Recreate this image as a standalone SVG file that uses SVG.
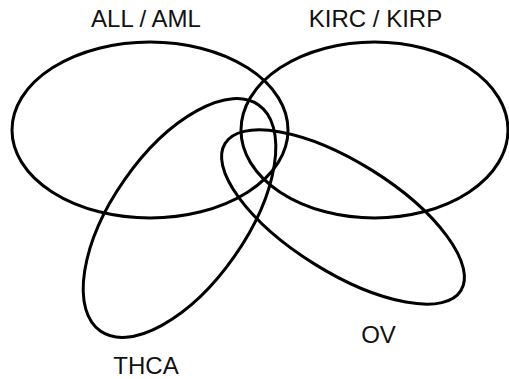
<svg xmlns="http://www.w3.org/2000/svg" width="509" height="379" viewBox="0 0 509 379">
<style>
.set{fill:none;stroke:#000;stroke-width:3}
.lbl{font-family:"Liberation Sans",Arial,sans-serif;font-size:24px;fill:#111;text-anchor:middle}
</style>
<rect width="509" height="379" fill="#fff"/>
<g id="all-aml"><ellipse class="set" cx="150" cy="130" rx="138" ry="88"/><text class="lbl" x="146" y="27">ALL / AML</text></g>
<g id="kirc-kirp"><ellipse class="set" cx="374.5" cy="130" rx="133.5" ry="88"/><text class="lbl" x="375.5" y="27">KIRC / KIRP</text></g>
<g id="thca"><ellipse class="set" transform="translate(179.5,218) rotate(-55)" rx="138" ry="67"/><text class="lbl" x="146" y="374">THCA</text></g>
<g id="ov"><ellipse class="set" transform="translate(343,217) rotate(32)" rx="139" ry="55"/><text class="lbl" x="378.5" y="343">OV</text></g>
</svg>
